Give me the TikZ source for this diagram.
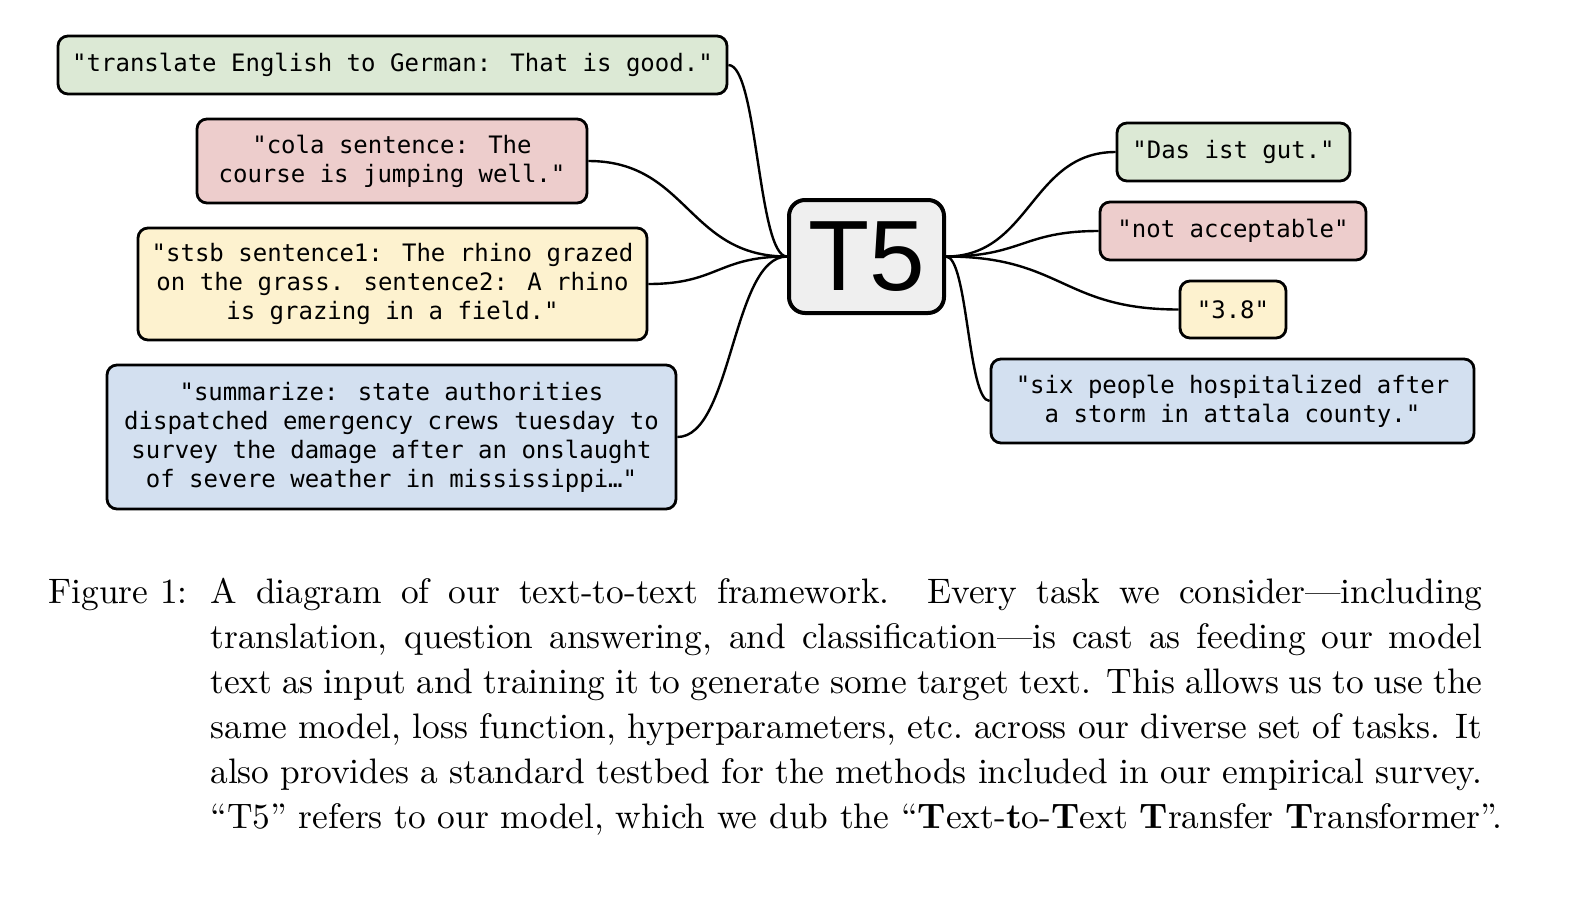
\documentclass[tikz,border=0pt]{standalone}
\usepackage{fontspec}
\newfontfamily\codefont{DejaVu Sans Mono}
\newfontfamily\logofont{Liberation Sans}
\newfontfamily\capfont{lmroman10-regular.otf}[BoldFont=lmroman10-bold.otf, Ligatures=TeX]
\usetikzlibrary{calc}
\definecolor{boxgreen}{HTML}{DCE9D5}
\definecolor{boxred}{HTML}{EDCDCC}
\definecolor{boxyellow}{HTML}{FDF2CF}
\definecolor{boxblue}{HTML}{D3E0F0}
\definecolor{boxgrey}{HTML}{EFEFEF}
\newcommand\wirelink[2]{\draw[wire] let \p1=(#1), \p2=(#2) in (\p1) .. controls ({(\x1+\x2)/2},\y1) and ({(\x1+\x2)/2},\y2) .. (\p2);}
\begin{document}
\begin{tikzpicture}[x=0.5pt,y=-0.5pt,
  box/.style={draw=black, line width=1.4pt, rounded corners=5pt, inner sep=0pt, align=center,
    font={\codefont\fontsize{12pt}{14.5pt}\selectfont}},
  wire/.style={line width=1.2pt},
  logo/.style={draw=black, line width=2pt, rounded corners=8pt, inner sep=0pt, fill=boxgrey,
    font={\logofont\fontsize{50pt}{50pt}\selectfont}},
  captext/.style={inner sep=0pt, font={\capfont\fontsize{17.7pt}{22.5pt}\selectfont}}]
\fill[white] (0,0) rectangle (1572,900);
\useasboundingbox (0,0) rectangle (1572,900);

% central node
\node[logo, minimum width=77.5pt, minimum height=56.5pt] (t5) at (866.5,256.5) {T5};

% inputs
\node[box, fill=boxgreen, minimum width=334.5pt, minimum height=29pt] (in1) at (392.5,65)
  {"translate English to German: That is good."};
\node[box, fill=boxred, minimum width=195pt, minimum height=42pt] (in2) at (392,161)
  {"cola sentence: The\\course is jumping well."};
\node[box, fill=boxyellow, minimum width=254.5pt, minimum height=56pt] (in3) at (392.5,284)
  {"stsb sentence1: The rhino grazed\\on the grass. sentence2: A rhino\\is grazing in a field."};
\node[box, fill=boxblue, minimum width=284.5pt, minimum height=72pt] (in4) at (391.5,437)
  {"summarize: state authorities\\dispatched emergency crews tuesday to\\survey the damage after an onslaught\\of severe weather in mississippi…"};

% outputs
\node[box, fill=boxgreen, minimum width=116.5pt, minimum height=29pt] (out1) at (1233.5,152)
  {"Das ist gut."};
\node[box, fill=boxred, minimum width=133pt, minimum height=29pt] (out2) at (1233,231)
  {"not acceptable"};
\node[box, fill=boxyellow, minimum width=53pt, minimum height=28.5pt] (out3) at (1233,309.5)
  {"3.8"};
\node[box, fill=boxblue, minimum width=241.5pt, minimum height=42pt] (out4) at (1232.5,401)
  {"six people hospitalized after\\a storm in attala county."};

% connectors
\wirelink{in1.east}{t5.west}
\wirelink{in2.east}{t5.west}
\wirelink{in3.east}{t5.west}
\wirelink{in4.east}{t5.west}
\wirelink{t5.east}{out1.west}
\wirelink{t5.east}{out2.west}
\wirelink{t5.east}{out3.west}
\wirelink{t5.east}{out4.west}

% caption
\node[captext, anchor=base west] (caplabel) at (48,603) {Figure 1:};
\node[captext, anchor=north west, text width=636pt, align=justify] (capbody) at (210,578)
  {\hyphenpenalty=10000\hfuzz=20pt A diagram of our text-to-text framework.  Every task we consider—including\linebreak
  translation, question answering, and classification—is cast as feeding our model\linebreak
  text as input and training it to generate some target text.  This allows us to use the\linebreak
  same model, loss function, hyperparameters, etc.\ across our diverse set of tasks.  It\linebreak
  also provides a standard testbed for the methods included in our empirical survey.\linebreak
  \mbox{“T5” refers to our model, which we dub the “\textbf{T}ext-\textbf{t}o-\textbf{T}ext \textbf{T}ransfer \textbf{T}ransformer”.}};
\end{tikzpicture}
\end{document}
